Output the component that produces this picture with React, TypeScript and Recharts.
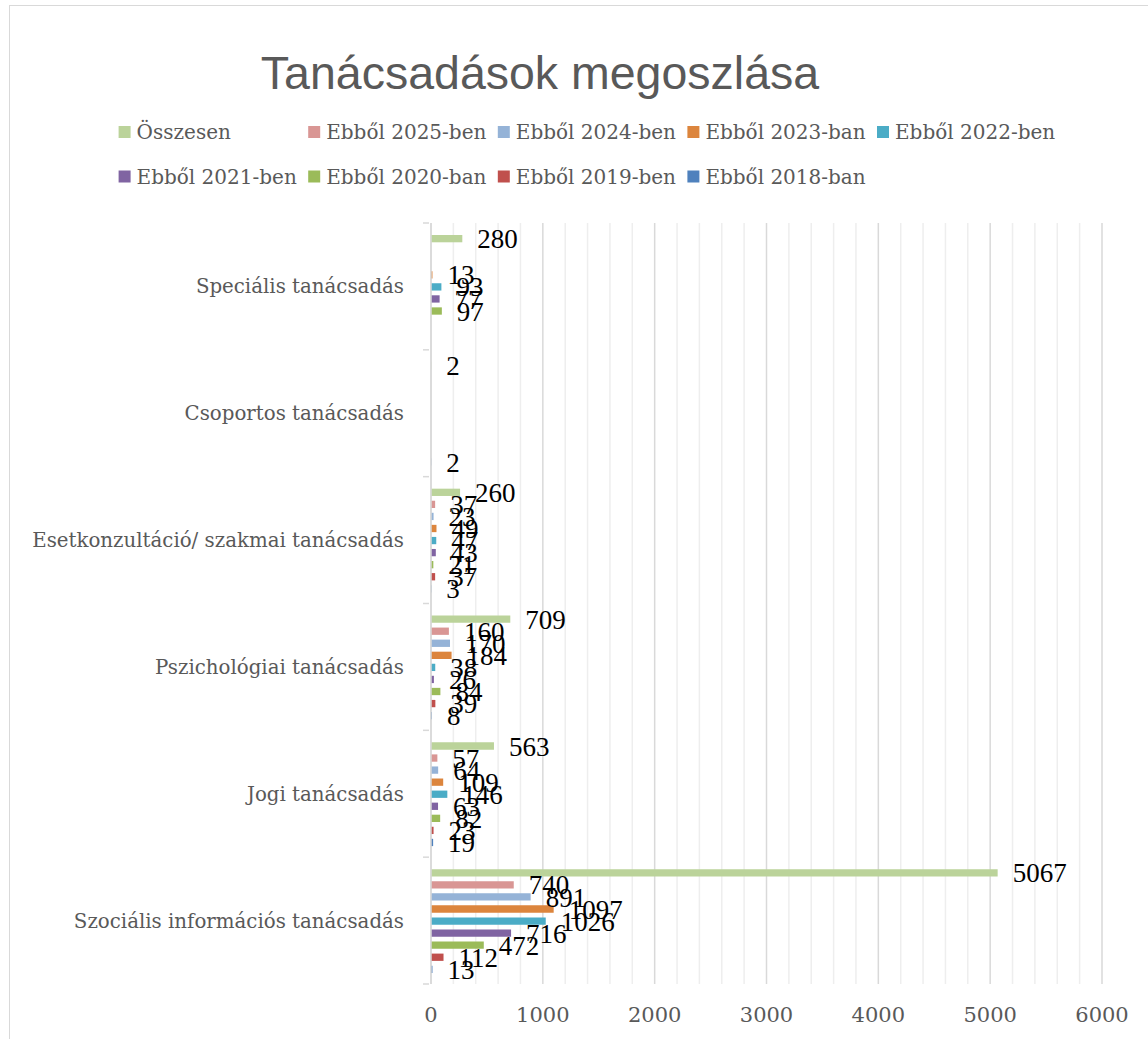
import React from 'react';
import { BarChart, Bar, XAxis, YAxis, CartesianGrid, LabelList, Legend } from 'recharts';

// Categories (top to bottom)
const categories = [
  'Speciális tanácsadás',
  'Csoportos tanácsadás',
  'Esetkonzultáció/ szakmai tanácsadás',
  'Pszichológiai tanácsadás',
  'Jogi tanácsadás',
  'Szociális információs tanácsadás',
];

// Series values, aligned with categories
const osszesen = [280, 2, 260, 709, 563, 5067];
const ev2025 = [null, null, 37, 160, 57, 740];
const ev2024 = [null, null, 23, 170, 64, 891];
const ev2023 = [13, null, 49, 184, 109, 1097];
const ev2022 = [93, null, 47, 38, 146, 1026];
const ev2021 = [77, null, 43, 26, 63, 716];
const ev2020 = [97, null, 21, 84, 82, 472];
const ev2019 = [null, null, 37, 39, 23, 112];
const ev2018 = [null, 2, 3, 8, 19, 13];

const seriesNames = [
  'Összesen',
  'Ebből 2025-ben',
  'Ebből 2024-ben',
  'Ebből 2023-ban',
  'Ebből 2022-ben',
  'Ebből 2021-ben',
  'Ebből 2020-ban',
  'Ebből 2019-ben',
  'Ebből 2018-ban',
];
const seriesColors = [
  '#BBD39A',
  '#D99694',
  '#95B3D7',
  '#DC853D',
  '#4BACC6',
  '#8064A2',
  '#9BBB59',
  '#C0504D',
  '#4F81BD',
];
const seriesValues = [osszesen, ev2025, ev2024, ev2023, ev2022, ev2021, ev2020, ev2019, ev2018];

const xTicks = [0, 1000, 2000, 3000, 4000, 5000, 6000];
const minorTicks = [
  200, 400, 600, 800, 1200, 1400, 1600, 1800, 2200, 2400, 2600, 2800,
  3200, 3400, 3600, 3800, 4200, 4400, 4600, 4800, 5200, 5400, 5600, 5800,
];

const data = categories.map((c, i) => {
  const row: any = { category: c };
  seriesValues.forEach((vals, s) => {
    row['s' + s] = vals[i];
  });
  return row;
});

const W = 1148;
const H = 1039;
const MARGIN = { top: 223, right: 46, bottom: 0, left: 0 };
const YAXIS_W = 431;
const XAXIS_H = 55;
const PLOT_H = H - MARGIN.top - MARGIN.bottom - XAXIS_H;

const SERIF = "'DejaVu Serif', serif";
const LABEL_FONT = "'Liberation Serif', serif";
const GREY = '#595959';

const CatTick = (props: any) => {
  const { x, y, payload, index } = props;
  const band = PLOT_H / categories.length;
  return (
    <g>
      <text x={x - 25} y={y} dy={7} textAnchor="end" fontFamily={SERIF} fontSize={19.8} fill={GREY}>
        {payload.value}
      </text>
      <line x1={x - 6} x2={x} y1={y - band / 2} y2={y - band / 2} stroke="#d9d9d9" strokeWidth={1.5} />
      {index === categories.length - 1 && (
        <line x1={x - 6} x2={x} y1={y + band / 2} y2={y + band / 2} stroke="#d9d9d9" strokeWidth={1.5} />
      )}
    </g>
  );
};

const ValTick = (props: any) => {
  const { x, y, payload } = props;
  return (
    <text x={x} y={y + 36} textAnchor="middle" fontFamily={SERIF} fontSize={21} fill={GREY}>
      {payload.value}
    </text>
  );
};

const LegendContent = () => {
  return (
    <svg width={W} height={200} style={{ position: 'absolute', left: 0, top: 0, overflow: 'visible' }}>
      {seriesNames.map((name, i) => {
        const col = i % 5;
        const row = Math.floor(i / 5);
        const x = 118.6 + 189.6 * col;
        const top = row === 0 ? 126 : 170.5;
        return (
          <g key={i}>
            <rect x={x} y={top} width={12} height={12} fill={seriesColors[i]} />
            <text x={x + 18} y={top + 13} fontFamily={SERIF} fontSize={20} fill={GREY}>
              {name}
            </text>
          </g>
        );
      })}
    </svg>
  );
};

export default function App() {
  return (
    <div style={{ position: 'absolute', left: 0, top: 0, width: W, height: H, overflow: 'hidden', background: '#fff' }}>
      <div
        style={{
          position: 'absolute',
          left: 9,
          top: 5,
          width: W + 50,
          height: H + 50,
          border: '1.5px solid #d9d9d9',
          boxSizing: 'border-box',
        }}
      />
      <svg width={W} height={120} style={{ position: 'absolute', left: 0, top: 0 }}>
        <text x={540} y={89} textAnchor="middle" fontFamily="'Liberation Sans', sans-serif" fontSize={46.5} fill={GREY}>
          Tanácsadások megoszlása
        </text>
      </svg>
      <div style={{ position: 'absolute', left: 0, top: 0 }}>
        <BarChart
          width={W}
          height={H}
          data={data}
          layout="vertical"
          margin={MARGIN}
          barSize={7.3}
          barGap={4.76}
        >
          <CartesianGrid
            horizontal={false}
            stroke="#eeeeee"
            strokeWidth={1.5}
            verticalCoordinatesGenerator={(args: any) => {
              const xa = args.xAxis;
              if (xa && typeof xa.scale === 'function') return minorTicks.map((v) => xa.scale(v));
              return minorTicks.map((v) => args.offset.left + (v / 6000) * args.offset.width);
            }}
          />
          <CartesianGrid horizontal={false} stroke="#d9d9d9" strokeWidth={1.5} />
          <XAxis
            type="number"
            domain={[0, 6000]}
            ticks={xTicks}
            axisLine={false}
            tickLine={false}
            tickSize={0}
            height={XAXIS_H}
            tick={<ValTick />}
            interval={0}
          />
          <YAxis
            type="category"
            dataKey="category"
            width={YAXIS_W}
            axisLine={{ stroke: '#d9d9d9', strokeWidth: 1.5 }}
            tickLine={false}
            tickSize={0}
            tick={<CatTick />}
            interval={0}
          />
          <Legend content={<LegendContent />} wrapperStyle={{ left: 0, top: 0, width: 0, height: 0 }} />
          {seriesNames.map((name, s) => (
            <Bar key={s} dataKey={'s' + s} name={name} fill={seriesColors[s]} isAnimationActive={false}>
              <LabelList
                dataKey={'s' + s}
                position="right"
                offset={15}
                fill="#000"
                fontFamily={LABEL_FONT}
                fontSize={27}
              />
            </Bar>
          ))}
        </BarChart>
      </div>
    </div>
  );
}
